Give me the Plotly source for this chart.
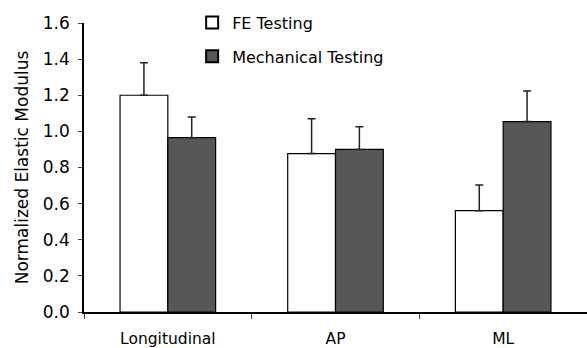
import plotly.graph_objects as go

categories = ["Longitudinal", "AP", "ML"]
fe_values = [1.20, 0.877, 0.561]
fe_errors = [0.18, 0.193, 0.142]
mech_values = [0.965, 0.90, 1.054]
mech_errors = [0.115, 0.126, 0.170]
y_ticks = [0.0, 0.2, 0.4, 0.6, 0.8, 1.0, 1.2, 1.4, 1.6]

font = "DejaVu Sans, Arial, sans-serif"

fig = go.Figure()
fig.add_trace(go.Bar(
    name="FE Testing", x=categories, y=fe_values, legendgroup="fe",
    marker=dict(color="white", line=dict(color="black", width=1.2)),
    error_y=dict(type="data", array=fe_errors, arrayminus=[0]*3, symmetric=False,
                 color="#222", thickness=1.5, width=4),
))
fig.add_trace(go.Bar(
    name="Mechanical Testing", x=categories, y=mech_values, legendgroup="mech",
    marker=dict(color="#575757", line=dict(color="black", width=1.2)),
    error_y=dict(type="data", array=mech_errors, arrayminus=[0]*3, symmetric=False,
                 color="#222", thickness=1.5, width=4),
))

fig.update_layout(
    width=587, height=348,
    margin=dict(l=84, r=0, t=23, b=36),
    paper_bgcolor="white", plot_bgcolor="white",
    barmode="group", bargap=0.43, bargroupgap=0,
    font=dict(family=font, size=16, color="black"),
    showlegend=True,
    legend=dict(x=0.215, y=1.06, xanchor="left", yanchor="top",
                bgcolor="rgba(0,0,0,0)", font=dict(size=16),
                itemsizing="constant", tracegroupgap=10),
    xaxis=dict(showline=True, linecolor="black", linewidth=1.5,
               ticks="outside", ticklen=5, tickcolor="#444",
               tickson="boundaries", ticklabelstandoff=12,
               showgrid=False, tickfont=dict(size=15.5)),
    yaxis=dict(range=[0, 1.6], tickvals=y_ticks,
               ticktext=[f"{v:.1f}" for v in y_ticks],
               showline=True, linecolor="black", linewidth=1.5,
               ticks="outside", ticklen=4, tickcolor="#444",
               ticklabelstandoff=5,
               showgrid=False, zeroline=False, tickfont=dict(size=17),
               title=dict(text="Normalized Elastic Modulus", font=dict(size=17), standoff=10)),
)

fig.write_html("out.html")
